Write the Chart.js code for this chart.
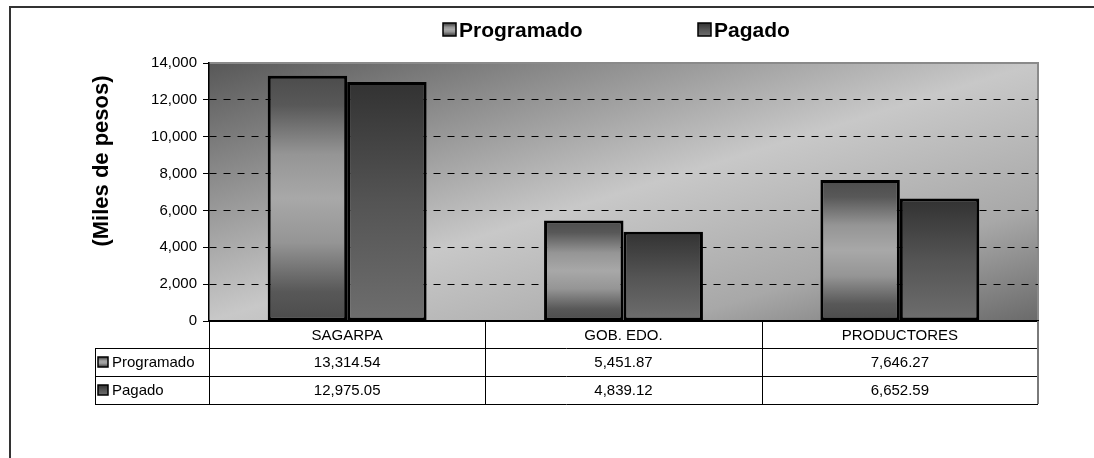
<!DOCTYPE html>
<html>
<head>
<meta charset="utf-8">
<script src="https://cdn.jsdelivr.net/npm/chart.js@4/dist/chart.umd.min.js"></script>
<style>
  html, body { margin: 0; padding: 0; background: #fff; }
  #wrap { width: 1094px; height: 458px; }
</style>
</head>
<body>
<div id="wrap"><canvas id="BarChart_Aportes" width="1094" height="458"></canvas></div>
<script>
    var categories = ["SAGARPA", "GOB. EDO.", "PRODUCTORES"];
    var programado = [13314.54, 5451.87, 7646.27];
    var pagado = [12975.05, 4839.12, 6652.59];
    var yTicks = [0, 2000, 4000, 6000, 8000, 10000, 12000, 14000];
    var yTitle = "(Miles de pesos)";

    var FONT = "'Liberation Sans', Arial, sans-serif";

    var progStops = [[0, '#4c4c4c'], [0.12, '#585858'], [0.32, '#959595'], [0.5, '#a8a8a8'], [0.68, '#959595'], [0.88, '#585858'], [1, '#4c4c4c']];
    var pagStops = [[0, '#323232'], [0.5, '#545454'], [1, '#6e6e6e']];

    function gradient(ctx, y0, y1, stops) {
        var g = ctx.createLinearGradient(0, y0, 0, y1);
        stops.forEach(function (s) { g.addColorStop(s[0], s[1]); });
        return g;
    }

    function barFill(stops) {
        return function (c) {
            var chart = c.chart;
            if (c.type !== 'data' || !chart.chartArea || !chart.scales.y) return stops[1][1];
            var top = chart.scales.y.getPixelForValue(c.raw);
            var base = chart.scales.y.getPixelForValue(0);
            if (!isFinite(top) || !isFinite(base) || top === base) return stops[1][1];
            return gradient(chart.ctx, top, base, stops);
        };
    }

    function keyBox(ctx, x, y, size, stops) {
        ctx.fillStyle = gradient(ctx, y, y + size, stops);
        ctx.fillRect(x, y, size, size);
        ctx.lineWidth = 1.5;
        ctx.strokeStyle = '#000';
        ctx.strokeRect(x, y, size, size);
    }

    var seriesStops = [progStops, pagStops];

    var decor = {
        id: 'decor',
        beforeDraw: function (chart) {
            var ctx = chart.ctx, a = chart.chartArea;
            ctx.save();
            ctx.fillStyle = '#fff';
            ctx.fillRect(0, 0, chart.width, chart.height);
            // plot background, diagonal gradient
            ctx.save();
            ctx.translate(a.left, a.top);
            ctx.scale(a.right - a.left, a.bottom - a.top);
            var g = ctx.createLinearGradient(0, 0, 1, 1);
            g.addColorStop(0, '#585858');
            g.addColorStop(0.22, '#8a8a8a');
            g.addColorStop(0.5, '#c8c8c8');
            g.addColorStop(0.78, '#a8a8a8');
            g.addColorStop(1, '#6a6a6a');
            ctx.fillStyle = g;
            ctx.fillRect(0, 0, 1, 1);
            ctx.restore();
            ctx.strokeStyle = '#8a8a8a';
            ctx.lineWidth = 2;
            ctx.beginPath();
            ctx.moveTo(a.left, a.top);
            ctx.lineTo(a.right, a.top);
            ctx.lineTo(a.right, a.bottom);
            ctx.stroke();
            // outer frame
            ctx.strokeStyle = '#333';
            ctx.lineWidth = 2;
            ctx.beginPath();
            ctx.moveTo(10, chart.height);
            ctx.lineTo(10, 7);
            ctx.lineTo(chart.width, 7);
            ctx.stroke();
            ctx.restore();
        },
        afterDraw: function (chart) {
            var ctx = chart.ctx, a = chart.chartArea;
            var xs = chart.scales.x;
            var n = categories.length;
            var colW = (a.right - a.left) / n;
            var rowH = 28;
            var tLeft = 95;
            var rows = [a.bottom, a.bottom + 27, a.bottom + 27 + rowH, a.bottom + 27 + 2 * rowH];
            ctx.save();
            // table lines
            ctx.strokeStyle = '#000';
            ctx.lineWidth = 1;
            ctx.beginPath();
            for (var r = 1; r < rows.length; r++) {
                ctx.moveTo(tLeft, rows[r] + 0.5);
                ctx.lineTo(a.right, rows[r] + 0.5);
            }
            ctx.moveTo(tLeft + 0.5, rows[1]);
            ctx.lineTo(tLeft + 0.5, rows[3]);
            for (var i = 0; i < n; i++) {
                var cx = Math.round(a.left + i * colW) + 0.5;
                ctx.moveTo(cx, rows[0]);
                ctx.lineTo(cx, rows[3]);
            }
            ctx.stroke();
            ctx.strokeStyle = '#7a7a7a';
            ctx.lineWidth = 2;
            ctx.beginPath();
            ctx.moveTo(a.right, rows[0]);
            ctx.lineTo(a.right, rows[3]);
            ctx.stroke();

            // table texts
            ctx.fillStyle = '#000';
            ctx.font = '15px ' + FONT;
            ctx.textAlign = 'center';
            ctx.textBaseline = 'middle';
            var series = chart.data.datasets;
            for (var j = 0; j < n; j++) {
                var px = xs.getPixelForValue(j);
                ctx.fillText(categories[j], px, (rows[0] + rows[1]) / 2 + 1);
                for (var s = 0; s < series.length; s++) {
                    var v = series[s].data[j].toLocaleString('en-US', { minimumFractionDigits: 2, maximumFractionDigits: 2 });
                    ctx.fillText(v, px, (rows[s + 1] + rows[s + 2]) / 2 + 1);
                }
            }
            ctx.textAlign = 'left';
            for (var k = 0; k < series.length; k++) {
                var cy = (rows[k + 1] + rows[k + 2]) / 2;
                keyBox(ctx, 98, cy - 5, 10, seriesStops[k]);
                ctx.fillStyle = '#000';
                ctx.fillText(series[k].label, 112, cy + 1);
            }

            // legend
            ctx.font = 'bold 21px ' + FONT;
            var legendX = [443, 698];
            for (var m = 0; m < series.length; m++) {
                keyBox(ctx, legendX[m], 23, 13, seriesStops[m]);
                ctx.fillStyle = '#000';
                ctx.fillText(series[m].label, legendX[m] + 16, 31);
            }

            // y axis title
            ctx.save();
            ctx.translate(102, 161);
            ctx.rotate(-Math.PI / 2);
            ctx.font = 'bold 22px ' + FONT;
            ctx.textAlign = 'center';
            ctx.fillText(yTitle, 0, 0);
            ctx.restore();
            ctx.restore();
        }
    };

    var ctxAportes = document.getElementById("BarChart_Aportes");
    var BarChart_Aportes = new Chart(ctxAportes, {
        type: 'bar',
        data: {
            labels: categories,
            datasets: [{
                label: 'Programado',
                data: programado,
                backgroundColor: barFill(progStops),
                borderColor: '#000',
                borderWidth: 3,
                borderSkipped: false,
            }, {
                label: 'Pagado',
                data: pagado,
                backgroundColor: barFill(pagStops),
                borderColor: '#000',
                borderWidth: 3,
                borderSkipped: false,
            }, ],
        },
        plugins: [decor],
        options: {
            responsive: false,
            animation: false,
            events: [],
            layout: {
                padding: { left: 10, top: 63, right: 56, bottom: 137 }
            },
            datasets: {
                bar: {
                    categoryPercentage: 0.575,
                    barPercentage: 1
                }
            },
            plugins: {
                legend: { display: false },
                tooltip: { enabled: false },
                title: { display: false }
            },
            scales: {
                x: {
                    ticks: { display: false },
                    grid: { display: false, drawTicks: false },
                    border: { display: true, color: '#000', width: 2 },
                    afterFit: function (scale) { scale.height = 0; }
                },
                y: {
                    min: yTicks[0],
                    max: yTicks[yTicks.length - 1],
                    afterBuildTicks: function (scale) {
                        scale.ticks = yTicks.map(function (v) { return { value: v }; });
                    },
                    afterFit: function (scale) { scale.width = 199; },
                    ticks: {
                        padding: 6,
                        color: '#000',
                        font: { family: FONT, size: 15 },
                        callback: function (v) { return v.toLocaleString('en-US'); }
                    },
                    grid: {
                        color: function (c) {
                            return (c.tick && (c.tick.value === 0 || c.tick.value === yTicks[yTicks.length - 1])) ? 'rgba(0,0,0,0)' : '#000';
                        },
                        lineWidth: 1,
                        tickLength: 6,
                        tickColor: '#000',
                        tickWidth: 1
                    },
                    border: { display: true, color: '#000', width: 1.5, dash: [7, 7] }
                }
            }
        }
    });
</script>
</body>
</html>
